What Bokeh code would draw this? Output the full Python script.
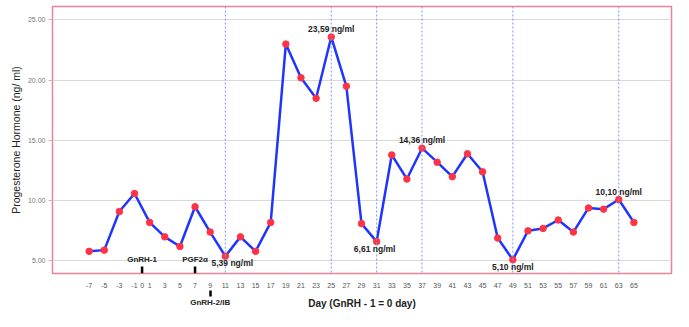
from bokeh.plotting import figure
from bokeh.models import (ColumnDataSource, Range1d, FixedTicker, NumeralTickFormatter, Span,
                          LabelSet, LinearAxis)
from bokeh.core.properties import value
from bokeh.embed import file_html
from bokeh.resources import INLINE

# ---- data ----
days = [-7, -5, -3, -1, 1, 3, 5, 7, 9, 11, 13, 15, 17, 19, 21, 23, 25, 27, 29, 31,
        33, 35, 37, 39, 41, 43, 45, 47, 49, 51, 53, 55, 57, 59, 61, 63, 65]
progesterone = [5.8, 5.9, 9.1, 10.6, 8.2, 7.0, 6.2, 9.5, 7.4, 5.39, 7.0, 5.8, 8.2,
                23.0, 20.2, 18.5, 23.59, 19.5, 8.1, 6.61, 13.8, 11.8, 14.36, 13.2,
                12.0, 13.9, 12.4, 6.9, 5.10, 7.5, 7.7, 8.4, 7.4, 9.4, 9.3, 10.10, 8.2]
x_ticks = [-7, -5, -3, -1, 0, 1, 3, 5, 7, 9, 11, 13, 15, 17, 19, 21, 23, 25, 27, 29, 31,
           33, 35, 37, 39, 41, 43, 45, 47, 49, 51, 53, 55, 57, 59, 61, 63, 65]
y_ticks = [5, 10, 15, 20, 25]
ref_days = [11, 25, 31, 37, 49, 63]
peak_days = [25, 37, 63]
trough_days = [11, 31, 49]
event_days = [0, 7]
event_names = ["GnRH-1", "PGF2α"]
event2_day = 9
event2_name = "GnRH-2/IB"

# styles
trough_dx = [7, -2, 0]
FONT = "Liberation Sans"

p = figure(width=673, height=311, output_backend="svg", toolbar_location=None,
           x_range=Range1d(-11.84, 69.97), y_range=Range1d(3.96, 26.12),
           min_border_left=52, min_border_right=2, min_border_top=6, min_border_bottom=30)

p.outline_line_color = "#e8849a"
p.outline_line_width = 1.5
p.xgrid.grid_line_color = None
p.ygrid.grid_line_color = "#d9d9d9"
p.ygrid.grid_line_width = 1.2
p.ygrid.ticker = FixedTicker(ticks=y_ticks)

# y axis
p.yaxis.ticker = FixedTicker(ticks=y_ticks)
p.yaxis.formatter = NumeralTickFormatter(format="0.00")
p.yaxis.axis_line_color = None
p.yaxis.major_tick_line_color = "#bbbbbb"
p.yaxis.major_tick_out = 4
p.yaxis.major_tick_in = 0
p.yaxis.minor_tick_line_color = None
p.yaxis.major_label_text_font = FONT
p.yaxis.major_label_text_font_size = "7px"
p.yaxis.major_label_text_color = "#777777"
p.yaxis.major_label_standoff = 3
p.yaxis.axis_label = "Progesterone Hormone (ng/ ml)"
p.yaxis.axis_label_text_font = FONT
p.yaxis.axis_label_text_font_size = "10.5px"
p.yaxis.axis_label_text_font_style = "normal"
p.yaxis.axis_label_text_color = "#222222"
p.yaxis.axis_label_standoff = 3

# x axis (day ticks)
p.xaxis.ticker = FixedTicker(ticks=x_ticks)
p.xaxis.major_label_overrides = {float(t): str(t) for t in x_ticks}
p.xaxis.axis_line_color = None
p.xaxis.major_tick_line_color = None
p.xaxis.minor_tick_line_color = None
p.xaxis.major_label_text_font = FONT
p.xaxis.major_label_text_font_size = "7px"
p.xaxis.major_label_text_color = "#555555"
p.xaxis.major_label_standoff = 3

# second x axis: GnRH-2/IB marker + axis title on the same line
ax2 = LinearAxis(ticker=FixedTicker(ticks=[event2_day]),
                 major_label_overrides={float(event2_day): event2_name})
ax2.axis_line_color = None
ax2.minor_tick_line_color = None
ax2.major_tick_line_color = "#000000"
ax2.major_tick_line_width = 2.5
ax2.major_tick_out = 6
ax2.major_tick_in = 0
ax2.major_label_standoff = 1
ax2.major_label_text_font = FONT
ax2.major_label_text_font_size = "8px"
ax2.major_label_text_font_style = "bold"
ax2.major_label_text_color = "#222222"
ax2.axis_label = "Day (GnRH - 1 = 0 day)"
ax2.axis_label_text_font = FONT
ax2.axis_label_text_font_size = "10px"
ax2.axis_label_text_font_style = "bold"
ax2.axis_label_text_color = "#222222"
ax2.axis_label_standoff = -12
p.add_layout(ax2, "below")

for d in ref_days:
    p.add_layout(Span(location=d, dimension="height", line_color="#7a95f5",
                      line_dash="2 2", line_width=1))

src = ColumnDataSource(data=dict(day=days, p4=progesterone))
p.line("day", "p4", source=src, line_color="#1f35ff", line_width=2.5)
p.scatter("day", "p4", source=src, size=6.5, fill_color="#ff3344", line_color="#ff3344")

def fmt(v):
    return f"{v:.2f}".replace(".", ",") + " ng/ml"

pk = [progesterone[days.index(d)] for d in peak_days]
tr = [progesterone[days.index(d)] for d in trough_days]
peak_src = ColumnDataSource(data=dict(x=peak_days, y=pk, t=[fmt(v) for v in pk]))
tr_src = ColumnDataSource(data=dict(x=trough_days, y=tr, t=[fmt(v) for v in tr], dx=trough_dx))
p.add_layout(LabelSet(x="x", y="y", text="t", source=peak_src, text_align="center",
                      text_baseline="bottom", y_offset=3, text_font=value(FONT),
                      text_font_size="8.5px", text_font_style="bold", text_color="#222222"))
p.add_layout(LabelSet(x="x", y="y", text="t", source=tr_src, text_align="center",
                      text_baseline="top", y_offset=-2, x_offset="dx", text_font=value(FONT),
                      text_font_size="8.5px", text_font_style="bold", text_color="#222222"))

ev_src = ColumnDataSource(data=dict(x=event_days, name=event_names))
p.rect(x="x", y=4.26, width=2.5, height=7, width_units="screen", height_units="screen",
       source=ev_src, fill_color="#000000", line_color=None)
p.add_layout(LabelSet(x="x", y=5.15, text="name", source=ev_src, text_align="center",
                      text_baseline="middle", text_font=value(FONT), text_font_size="8px",
                      text_font_style="bold", text_color="#222222"))

open("out.html", "w").write(file_html(p, INLINE))
